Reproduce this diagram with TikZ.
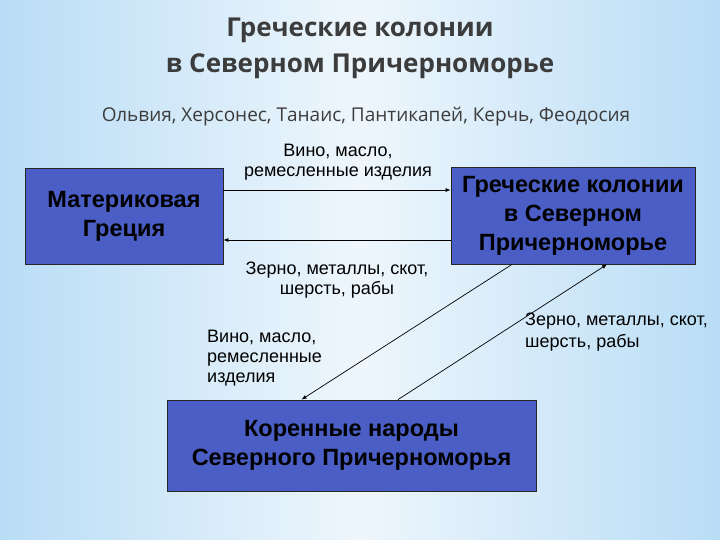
\documentclass[tikz,border=0pt]{standalone}
\usepackage{fontspec}
\setmainfont{Liberation Sans}
\newfontfamily\titlefont{Open Sans}
\usetikzlibrary{arrows.meta}
\definecolor{bgedge}{HTML}{B9DDF6}
\definecolor{bgmid}{HTML}{EEF6FC}
\definecolor{boxfill}{HTML}{4A5EC6}
\definecolor{titlegray}{HTML}{3C3C3C}
\tikzset{
  box/.style={draw=black!85, line width=0.8pt, fill=boxfill, align=center,
    font=\fontsize{23.5}{29}\selectfont\bfseries, text=black, inner sep=0pt},
  lbl/.style={font=\fontsize{18}{20}\selectfont, text=black, inner sep=0pt},
  ttl/.style={font=\titlefont\fontsize{26}{34}\selectfont\bfseries, text=titlegray, inner sep=0pt, anchor=base},
  arr/.style={draw=black, line width=0.7pt, -{Latex[length=5pt,width=4pt]}}
}
\begin{document}
\begin{tikzpicture}[x=1pt,y=-1pt]
\useasboundingbox (0,0) rectangle (720,540);
\shade[left color=bgedge, right color=bgedge, middle color=bgmid] (0,0) rectangle (720,540);
% titles
\node[ttl] (title1) at (360,37) {Греческие колонии};
\node[ttl] (title2) at (360,73) {в Северном Причерноморье};
\node[font=\titlefont\fontsize{19}{22}\selectfont, text=titlegray, inner sep=0pt, anchor=base] (sub) at (366,122)
  {Ольвия, Херсонес, Танаис, Пантикапей, Керчь, Феодосия};
% boxes
\node[box, minimum width=198pt, minimum height=96pt] (greece) at (124,216) {Материковая\\Греция};
\node[box, minimum width=244pt, minimum height=97pt] (col) at (573,215.5) {Греческие колонии\\в Северном\\Причерноморье};
\node[box, minimum width=369pt, minimum height=91pt] (nat) at (351.5,445.5) {Коренные народы\\Северного Причерноморья};
% horizontal connectors
\draw[arr] ([yshift=26pt]greece.east) -- ([yshift=26pt]greece.east -| col.west);
\draw[arr] ([yshift=-24.5pt]col.west) -- ([yshift=-24.5pt]col.west -| greece.east);
% diagonal connectors
\draw[arr] ([xshift=-61pt]col.south) -- ([xshift=-50pt]nat.north);
\draw[arr] ([xshift=46.5pt]nat.north) -- ([xshift=34pt]col.south);
% labels
\node[lbl, align=center] (l1) at (338,162) {Вино, масло,\\ремесленные изделия};
\node[lbl, align=center] (l2) at (337,280) {Зерно, металлы, скот,\\шерсть, рабы};
\node[lbl, align=left, anchor=north west] (l3) at (207,330) {Вино, масло,\\ремесленные\\изделия};
\node[lbl, align=left, anchor=north west, font=\fontsize{18}{22}\selectfont] (l4) at (525,313) {Зерно, металлы, скот,\\шерсть, рабы};
\end{tikzpicture}
\end{document}
